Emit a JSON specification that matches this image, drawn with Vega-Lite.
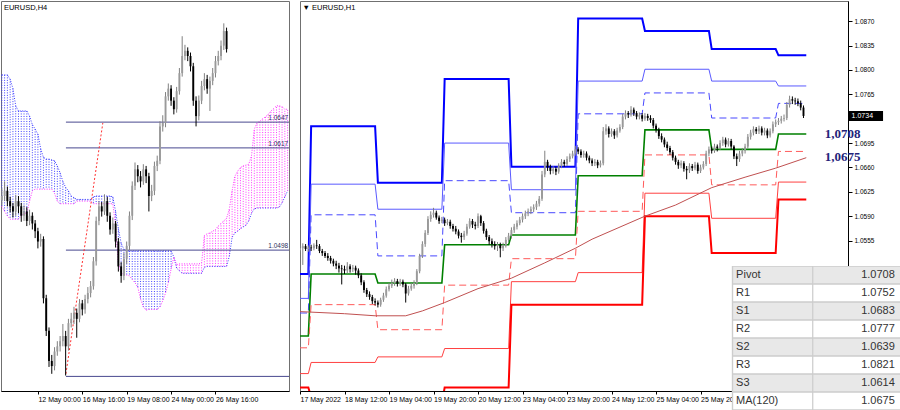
{
  "$schema": "https://vega.github.io/schema/vega-lite/v6.json",
  "padding": 0,
  "background": "#ffffff",
  "spacing": 9,
  "config": {
    "view": {"stroke": "#707070", "strokeWidth": 1},
    "axis": {"labelFont": "Liberation Sans", "labelFontSize": 7, "labelColor": "#000000", "domainColor": "#000000", "tickColor": "#000000", "grid": false, "title": null, "labelOverlap": false, "labelFlush": false},
    "title": {"font": "Liberation Sans", "fontSize": 7.5, "fontWeight": "normal", "color": "#000000", "anchor": "start"}
  },
  "datasets": {
    "h4": [
      {"b":-13,"o":1.0556,"h":1.0570,"l":1.0550,"c":1.0561},
      {"b":-12,"o":1.0561,"h":1.0578,"l":1.0555,"c":1.0567},
      {"b":-11,"o":1.0567,"h":1.0572,"l":1.0549,"c":1.0555},
      {"b":-10,"o":1.0555,"h":1.0560,"l":1.0542,"c":1.0549},
      {"b":-9,"o":1.0549,"h":1.0553,"l":1.0536,"c":1.0543},
      {"b":-8,"o":1.0543,"h":1.0562,"l":1.0538,"c":1.0555},
      {"b":-7,"o":1.0555,"h":1.0561,"l":1.0541,"c":1.0549},
      {"b":-6,"o":1.0549,"h":1.0553,"l":1.0531,"c":1.0538},
      {"b":-5,"o":1.0538,"h":1.0550,"l":1.0532,"c":1.0543},
      {"b":-4,"o":1.0543,"h":1.0548,"l":1.0526,"c":1.0532},
      {"b":-3,"o":1.0532,"h":1.0545,"l":1.0527,"c":1.0538},
      {"b":-2,"o":1.0538,"h":1.0542,"l":1.0522,"c":1.0529},
      {"b":-1,"o":1.0529,"h":1.0533,"l":1.0512,"c":1.0520},
      {"b":0,"o":1.0520,"h":1.0524,"l":1.0500,"c":1.0508},
      {"b":1,"o":1.0508,"h":1.0517,"l":1.0502,"c":1.0511},
      {"b":2,"o":1.0511,"h":1.0514,"l":1.0436,"c":1.0442},
      {"b":3,"o":1.0442,"h":1.0446,"l":1.0398,"c":1.0404},
      {"b":4,"o":1.0404,"h":1.0408,"l":1.0362,"c":1.0369},
      {"b":5,"o":1.0369,"h":1.0376,"l":1.0354,"c":1.0363},
      {"b":6,"o":1.0363,"h":1.0385,"l":1.0358,"c":1.0380},
      {"b":7,"o":1.0380,"h":1.0392,"l":1.0375,"c":1.0386},
      {"b":8,"o":1.0386,"h":1.0398,"l":1.0380,"c":1.0392},
      {"b":9,"o":1.0392,"h":1.0412,"l":1.0386,"c":1.0398},
      {"b":10,"o":1.0398,"h":1.0404,"l":1.0352,"c":1.0386},
      {"b":11,"o":1.0386,"h":1.0418,"l":1.0381,"c":1.0413},
      {"b":12,"o":1.0413,"h":1.0425,"l":1.0408,"c":1.0418},
      {"b":13,"o":1.0418,"h":1.0432,"l":1.0412,"c":1.0425},
      {"b":14,"o":1.0425,"h":1.0430,"l":1.0396,"c":1.0418},
      {"b":15,"o":1.0418,"h":1.0441,"l":1.0414,"c":1.0436},
      {"b":16,"o":1.0436,"h":1.0440,"l":1.0422,"c":1.0429},
      {"b":17,"o":1.0429,"h":1.0446,"l":1.0424,"c":1.0441},
      {"b":18,"o":1.0441,"h":1.0455,"l":1.0436,"c":1.0448},
      {"b":19,"o":1.0448,"h":1.0462,"l":1.0443,"c":1.0456},
      {"b":20,"o":1.0456,"h":1.0490,"l":1.0452,"c":1.0485},
      {"b":21,"o":1.0485,"h":1.0537,"l":1.0480,"c":1.0532},
      {"b":22,"o":1.0532,"h":1.0555,"l":1.0527,"c":1.0549},
      {"b":23,"o":1.0549,"h":1.0554,"l":1.0537,"c":1.0543},
      {"b":24,"o":1.0543,"h":1.0563,"l":1.0539,"c":1.0555},
      {"b":25,"o":1.0555,"h":1.0560,"l":1.0531,"c":1.0538},
      {"b":26,"o":1.0538,"h":1.0542,"l":1.0516,"c":1.0522},
      {"b":27,"o":1.0522,"h":1.0536,"l":1.0517,"c":1.0529},
      {"b":28,"o":1.0529,"h":1.0532,"l":1.0501,"c":1.0508},
      {"b":29,"o":1.0508,"h":1.0512,"l":1.0473,"c":1.0479},
      {"b":30,"o":1.0479,"h":1.0484,"l":1.0460,"c":1.0468},
      {"b":31,"o":1.0468,"h":1.0495,"l":1.0463,"c":1.0488},
      {"b":32,"o":1.0488,"h":1.0508,"l":1.0482,"c":1.0503},
      {"b":33,"o":1.0503,"h":1.0543,"l":1.0498,"c":1.0538},
      {"b":34,"o":1.0538,"h":1.0578,"l":1.0533,"c":1.0573},
      {"b":35,"o":1.0573,"h":1.0600,"l":1.0568,"c":1.0592},
      {"b":36,"o":1.0592,"h":1.0597,"l":1.0577,"c":1.0584},
      {"b":37,"o":1.0584,"h":1.0590,"l":1.0571,"c":1.0578},
      {"b":38,"o":1.0578,"h":1.0598,"l":1.0574,"c":1.0592},
      {"b":39,"o":1.0592,"h":1.0596,"l":1.0576,"c":1.0584},
      {"b":40,"o":1.0584,"h":1.0588,"l":1.0543,"c":1.0561},
      {"b":41,"o":1.0561,"h":1.0574,"l":1.0555,"c":1.0567},
      {"b":42,"o":1.0567,"h":1.0601,"l":1.0562,"c":1.0596},
      {"b":43,"o":1.0596,"h":1.0608,"l":1.0590,"c":1.0602},
      {"b":44,"o":1.0602,"h":1.0648,"l":1.0598,"c":1.0642},
      {"b":45,"o":1.0642,"h":1.0655,"l":1.0636,"c":1.0646},
      {"b":46,"o":1.0646,"h":1.0682,"l":1.0641,"c":1.0677},
      {"b":47,"o":1.0677,"h":1.0692,"l":1.0672,"c":1.0686},
      {"b":48,"o":1.0686,"h":1.0690,"l":1.0666,"c":1.0672},
      {"b":49,"o":1.0672,"h":1.0676,"l":1.0656,"c":1.0662},
      {"b":50,"o":1.0662,"h":1.0688,"l":1.0658,"c":1.0683},
      {"b":51,"o":1.0683,"h":1.0710,"l":1.0679,"c":1.0704},
      {"b":52,"o":1.0704,"h":1.0747,"l":1.0700,"c":1.0724},
      {"b":53,"o":1.0724,"h":1.0737,"l":1.0719,"c":1.0730},
      {"b":54,"o":1.0730,"h":1.0734,"l":1.0718,"c":1.0724},
      {"b":55,"o":1.0724,"h":1.0728,"l":1.0706,"c":1.0712},
      {"b":56,"o":1.0712,"h":1.0716,"l":1.0666,"c":1.0672},
      {"b":57,"o":1.0672,"h":1.0677,"l":1.0642,"c":1.0654},
      {"b":58,"o":1.0654,"h":1.0678,"l":1.0649,"c":1.0672},
      {"b":59,"o":1.0672,"h":1.0695,"l":1.0668,"c":1.0689},
      {"b":60,"o":1.0689,"h":1.0704,"l":1.0684,"c":1.0697},
      {"b":61,"o":1.0697,"h":1.0702,"l":1.0680,"c":1.0686},
      {"b":62,"o":1.0686,"h":1.0700,"l":1.0660,"c":1.0695},
      {"b":63,"o":1.0695,"h":1.0710,"l":1.0690,"c":1.0704},
      {"b":64,"o":1.0704,"h":1.0724,"l":1.0699,"c":1.0718},
      {"b":65,"o":1.0718,"h":1.0730,"l":1.0713,"c":1.0724},
      {"b":66,"o":1.0724,"h":1.0742,"l":1.0719,"c":1.0736},
      {"b":67,"o":1.0736,"h":1.0762,"l":1.0731,"c":1.0753},
      {"b":68,"o":1.0753,"h":1.0757,"l":1.0728,"c":1.0732}
    ],
    "ichi": [
      {"b":-13,"A":1.0702,"B":1.0549},{"b":-12,"A":1.0702,"B":1.0543},{"b":-11,"A":1.0702,"B":1.0538},{"b":-10,"A":1.0697,"B":1.0534},
      {"b":-9,"A":1.0686,"B":1.0534},{"b":-8,"A":1.0666,"B":1.0534},{"b":-7,"A":1.0660,"B":1.0534},{"b":-6,"A":1.0660,"B":1.0538},
      {"b":-5,"A":1.0660,"B":1.0541},{"b":-4,"A":1.0660,"B":1.0541},{"b":-3,"A":1.0654,"B":1.0555},{"b":-2,"A":1.0644,"B":1.0567},
      {"b":-1,"A":1.0639,"B":1.0569},{"b":0,"A":1.0633,"B":1.0569},{"b":1,"A":1.0616,"B":1.0569},{"b":2,"A":1.0606,"B":1.0569},
      {"b":3,"A":1.0604,"B":1.0569},{"b":4,"A":1.0604,"B":1.0569},{"b":5,"A":1.0603,"B":1.0569},{"b":6,"A":1.0602,"B":1.0564},
      {"b":7,"A":1.0596,"B":1.0555},{"b":8,"A":1.0588,"B":1.0552},{"b":9,"A":1.0578,"B":1.0552},{"b":10,"A":1.0571,"B":1.0552},
      {"b":11,"A":1.0567,"B":1.0552},{"b":12,"A":1.0561,"B":1.0552},{"b":13,"A":1.0559,"B":1.0552},{"b":14,"A":1.0557,"B":1.0555},
      {"b":15,"A":1.0557,"B":1.0555},{"b":16,"A":1.0557,"B":1.0555},{"b":17,"A":1.0557,"B":1.0555},{"b":18,"A":1.0557,"B":1.0555},
      {"b":19,"A":1.0557,"B":1.0555},{"b":20,"A":1.0560,"B":1.0552},{"b":21,"A":1.0561,"B":1.0552},{"b":22,"A":1.0561,"B":1.0552},
      {"b":23,"A":1.0561,"B":1.0552},{"b":24,"A":1.0561,"B":1.0552},{"b":25,"A":1.0561,"B":1.0552},{"b":26,"A":1.0561,"B":1.0552},
      {"b":27,"A":1.0560,"B":1.0552},{"b":28,"A":1.0543,"B":1.0526},{"b":29,"A":1.0523,"B":1.0483},{"b":30,"A":1.0506,"B":1.0471},
      {"b":31,"A":1.0499,"B":1.0470},{"b":32,"A":1.0497,"B":1.0469},{"b":33,"A":1.0497,"B":1.0468},{"b":34,"A":1.0497,"B":1.0464},
      {"b":35,"A":1.0497,"B":1.0460},{"b":36,"A":1.0497,"B":1.0455},{"b":37,"A":1.0497,"B":1.0441},{"b":38,"A":1.0497,"B":1.0432},
      {"b":39,"A":1.0497,"B":1.0428},{"b":40,"A":1.0497,"B":1.0429},{"b":41,"A":1.0497,"B":1.0429},{"b":42,"A":1.0497,"B":1.0429},
      {"b":43,"A":1.0497,"B":1.0429},{"b":44,"A":1.0497,"B":1.0432},{"b":45,"A":1.0497,"B":1.0439},{"b":46,"A":1.0497,"B":1.0448},
      {"b":47,"A":1.0497,"B":1.0460},{"b":48,"A":1.0497,"B":1.0476},{"b":49,"A":1.0490,"B":1.0490},{"b":50,"A":1.0477,"B":1.0481},
      {"b":51,"A":1.0474,"B":1.0482},{"b":52,"A":1.0471,"B":1.0482},{"b":53,"A":1.0471,"B":1.0482},{"b":54,"A":1.0471,"B":1.0482},
      {"b":55,"A":1.0471,"B":1.0482},{"b":56,"A":1.0471,"B":1.0482},{"b":57,"A":1.0471,"B":1.0482},{"b":58,"A":1.0471,"B":1.0482},
      {"b":59,"A":1.0471,"B":1.0483},{"b":60,"A":1.0478,"B":1.0515},{"b":61,"A":1.0479,"B":1.0517},{"b":62,"A":1.0479,"B":1.0518},
      {"b":63,"A":1.0479,"B":1.0520},{"b":64,"A":1.0479,"B":1.0522},{"b":65,"A":1.0479,"B":1.0526},{"b":66,"A":1.0479,"B":1.0529},
      {"b":67,"A":1.0479,"B":1.0532},{"b":68,"A":1.0479,"B":1.0535},{"b":69,"A":1.0491,"B":1.0546},{"b":70,"A":1.0513,"B":1.0567},
      {"b":71,"A":1.0518,"B":1.0584},{"b":72,"A":1.0520,"B":1.0590},{"b":73,"A":1.0523,"B":1.0594},{"b":74,"A":1.0525,"B":1.0596},
      {"b":75,"A":1.0527,"B":1.0597},{"b":76,"A":1.0532,"B":1.0598},{"b":77,"A":1.0541,"B":1.0608},{"b":78,"A":1.0546,"B":1.0639},
      {"b":79,"A":1.0547,"B":1.0646},{"b":80,"A":1.0547,"B":1.0648},{"b":81,"A":1.0547,"B":1.0651},{"b":82,"A":1.0547,"B":1.0653},
      {"b":83,"A":1.0547,"B":1.0656},{"b":84,"A":1.0547,"B":1.0660},{"b":85,"A":1.0547,"B":1.0663},{"b":86,"A":1.0547,"B":1.0666},
      {"b":87,"A":1.0548,"B":1.0666},{"b":88,"A":1.0553,"B":1.0665},{"b":89,"A":1.0560,"B":1.0662},{"b":90,"A":1.0567,"B":1.0662}
    ],
    "lv": [
      {"p":1.0647,"lab":"1.0647"},{"p":1.0617,"lab":"1.0617"},{"p":1.0498,"lab":"1.0498"},{"p":1.0351,"lab":""}
    ],
    "tr": [{"b":10.1,"p":1.0354},{"b":23.4,"p":1.0646}],
    "piv": [
      {"t":-4,"R3":1.0507,"R2":1.0472,"R1":1.0451,"P":1.0418,"S1":1.0401,"S2":1.0364,"S3":1.0344},
      {"t":-1,"R3":1.0507,"R2":1.0472,"R1":1.0451,"P":1.0418,"S1":1.0401,"S2":1.0364,"S3":1.0344},
      {"t":0,"R3":1.0719,"R2":1.0636,"R1":1.0592,"P":1.0507,"S1":1.0463,"S2":1.0380,"S3":1.0330},
      {"t":23,"R3":1.0719,"R2":1.0636,"R1":1.0592,"P":1.0507,"S1":1.0463,"S2":1.0380,"S3":1.0330},
      {"t":24,"R3":1.0638,"R2":1.0600,"R1":1.0533,"P":1.0494,"S1":1.0427,"S2":1.0388,"S3":1.0321},
      {"t":47,"R3":1.0638,"R2":1.0600,"R1":1.0533,"P":1.0494,"S1":1.0427,"S2":1.0388,"S3":1.0321},
      {"t":48,"R3":1.0787,"R2":1.0695,"R1":1.0641,"P":1.0549,"S1":1.0491,"S2":1.0400,"S3":1.0344},
      {"t":71,"R3":1.0787,"R2":1.0695,"R1":1.0641,"P":1.0549,"S1":1.0491,"S2":1.0400,"S3":1.0344},
      {"t":72,"R3":1.0661,"R2":1.0628,"R1":1.0595,"P":1.0563,"S1":1.0529,"S2":1.0496,"S3":1.0463},
      {"t":95,"R3":1.0661,"R2":1.0628,"R1":1.0595,"P":1.0563,"S1":1.0529,"S2":1.0496,"S3":1.0463},
      {"t":96,"R3":1.0874,"R2":1.0784,"R1":1.0737,"P":1.0648,"S1":1.0597,"S2":1.0509,"S3":1.0463},
      {"t":119,"R3":1.0874,"R2":1.0784,"R1":1.0737,"P":1.0648,"S1":1.0597,"S2":1.0509,"S3":1.0463},
      {"t":120,"R3":1.0856,"R2":1.0801,"R1":1.0767,"P":1.0714,"S1":1.0678,"S2":1.0623,"S3":1.0590},
      {"t":143,"R3":1.0856,"R2":1.0801,"R1":1.0767,"P":1.0714,"S1":1.0678,"S2":1.0623,"S3":1.0590},
      {"t":144,"R3":1.0830,"R2":1.0784,"R1":1.0731,"P":1.0686,"S1":1.0635,"S2":1.0587,"S3":1.0537},
      {"t":167,"R3":1.0830,"R2":1.0784,"R1":1.0731,"P":1.0686,"S1":1.0635,"S2":1.0587,"S3":1.0537},
      {"t":168,"R3":1.0821,"R2":1.0777,"R1":1.0752,"P":1.0708,"S1":1.0683,"S2":1.0639,"S3":1.0614},
      {"t":178,"R3":1.0821,"R2":1.0777,"R1":1.0752,"P":1.0708,"S1":1.0683,"S2":1.0639,"S3":1.0614}
    ],
    "ma": [
      {"t":-4,"v":1.0453},{"t":12,"v":1.0450},{"t":23,"v":1.0447},{"t":34,"v":1.0447},{"t":40,"v":1.0454},
      {"t":48,"v":1.0466},{"t":60,"v":1.0486},{"t":72,"v":1.0501},{"t":84,"v":1.0523},{"t":95,"v":1.0544},
      {"t":101,"v":1.0557},{"t":120,"v":1.0590},{"t":131,"v":1.0606},{"t":144,"v":1.0631},{"t":156,"v":1.0646},
      {"t":167,"v":1.0659},{"t":178,"v":1.0674}
    ],
    "h1": [
      {"t":-4,"o":1.0541,"h":1.0548,"l":1.0538,"c":1.0544},
      {"t":-3,"o":1.0544,"h":1.0551,"l":1.0520,"c":1.0547},
      {"t":-2,"o":1.0547,"h":1.0550,"l":1.0540,"c":1.0543},
      {"t":-1,"o":1.0543,"h":1.0548,"l":1.0539,"c":1.0545},
      {"t":0,"o":1.0545,"h":1.0549,"l":1.0540,"c":1.0544},
      {"t":1,"o":1.0544,"h":1.0551,"l":1.0541,"c":1.0548},
      {"t":2,"o":1.0548,"h":1.0556,"l":1.0543,"c":1.0547},
      {"t":3,"o":1.0547,"h":1.0550,"l":1.0537,"c":1.0540},
      {"t":4,"o":1.0540,"h":1.0543,"l":1.0533,"c":1.0537},
      {"t":5,"o":1.0537,"h":1.0540,"l":1.0530,"c":1.0533},
      {"t":6,"o":1.0533,"h":1.0537,"l":1.0526,"c":1.0530},
      {"t":7,"o":1.0530,"h":1.0533,"l":1.0522,"c":1.0526},
      {"t":8,"o":1.0526,"h":1.0529,"l":1.0518,"c":1.0522},
      {"t":9,"o":1.0522,"h":1.0526,"l":1.0514,"c":1.0519},
      {"t":10,"o":1.0519,"h":1.0523,"l":1.0509,"c":1.0515},
      {"t":11,"o":1.0515,"h":1.0520,"l":1.0492,"c":1.0514},
      {"t":12,"o":1.0514,"h":1.0519,"l":1.0507,"c":1.0512},
      {"t":13,"o":1.0512,"h":1.0524,"l":1.0508,"c":1.0518},
      {"t":14,"o":1.0518,"h":1.0521,"l":1.0509,"c":1.0514},
      {"t":15,"o":1.0514,"h":1.0520,"l":1.0510,"c":1.0516},
      {"t":16,"o":1.0516,"h":1.0519,"l":1.0506,"c":1.0512},
      {"t":17,"o":1.0512,"h":1.0515,"l":1.0501,"c":1.0505},
      {"t":18,"o":1.0505,"h":1.0508,"l":1.0491,"c":1.0495},
      {"t":19,"o":1.0495,"h":1.0498,"l":1.0480,"c":1.0484},
      {"t":20,"o":1.0484,"h":1.0487,"l":1.0474,"c":1.0478},
      {"t":21,"o":1.0478,"h":1.0482,"l":1.0470,"c":1.0474},
      {"t":22,"o":1.0474,"h":1.0477,"l":1.0464,"c":1.0468},
      {"t":23,"o":1.0468,"h":1.0472,"l":1.0462,"c":1.0466},
      {"t":24,"o":1.0466,"h":1.0469,"l":1.0459,"c":1.0463},
      {"t":25,"o":1.0463,"h":1.0473,"l":1.0460,"c":1.0470},
      {"t":26,"o":1.0470,"h":1.0480,"l":1.0467,"c":1.0476},
      {"t":27,"o":1.0476,"h":1.0489,"l":1.0473,"c":1.0485},
      {"t":28,"o":1.0485,"h":1.0494,"l":1.0482,"c":1.0490},
      {"t":29,"o":1.0490,"h":1.0499,"l":1.0487,"c":1.0494},
      {"t":30,"o":1.0494,"h":1.0501,"l":1.0490,"c":1.0497},
      {"t":31,"o":1.0497,"h":1.0500,"l":1.0489,"c":1.0493},
      {"t":32,"o":1.0493,"h":1.0500,"l":1.0490,"c":1.0496},
      {"t":33,"o":1.0496,"h":1.0499,"l":1.0488,"c":1.0492},
      {"t":34,"o":1.0492,"h":1.0494,"l":1.0466,"c":1.0479},
      {"t":35,"o":1.0479,"h":1.0490,"l":1.0476,"c":1.0486},
      {"t":36,"o":1.0486,"h":1.0494,"l":1.0483,"c":1.0490},
      {"t":37,"o":1.0490,"h":1.0498,"l":1.0486,"c":1.0494},
      {"t":38,"o":1.0494,"h":1.0514,"l":1.0491,"c":1.0511},
      {"t":39,"o":1.0511,"h":1.0536,"l":1.0508,"c":1.0533},
      {"t":40,"o":1.0533,"h":1.0554,"l":1.0530,"c":1.0550},
      {"t":41,"o":1.0550,"h":1.0570,"l":1.0546,"c":1.0566},
      {"t":42,"o":1.0566,"h":1.0590,"l":1.0563,"c":1.0586},
      {"t":43,"o":1.0586,"h":1.0597,"l":1.0582,"c":1.0592},
      {"t":44,"o":1.0592,"h":1.0602,"l":1.0588,"c":1.0595},
      {"t":45,"o":1.0595,"h":1.0598,"l":1.0585,"c":1.0588},
      {"t":46,"o":1.0588,"h":1.0591,"l":1.0579,"c":1.0583},
      {"t":47,"o":1.0583,"h":1.0589,"l":1.0580,"c":1.0585},
      {"t":48,"o":1.0585,"h":1.0588,"l":1.0576,"c":1.0580},
      {"t":49,"o":1.0580,"h":1.0586,"l":1.0577,"c":1.0582},
      {"t":50,"o":1.0582,"h":1.0585,"l":1.0572,"c":1.0576},
      {"t":51,"o":1.0576,"h":1.0579,"l":1.0568,"c":1.0572},
      {"t":52,"o":1.0572,"h":1.0576,"l":1.0564,"c":1.0568},
      {"t":53,"o":1.0568,"h":1.0571,"l":1.0558,"c":1.0562},
      {"t":54,"o":1.0562,"h":1.0566,"l":1.0552,"c":1.0560},
      {"t":55,"o":1.0560,"h":1.0569,"l":1.0556,"c":1.0565},
      {"t":56,"o":1.0565,"h":1.0579,"l":1.0562,"c":1.0575},
      {"t":57,"o":1.0575,"h":1.0587,"l":1.0572,"c":1.0583},
      {"t":58,"o":1.0583,"h":1.0586,"l":1.0573,"c":1.0578},
      {"t":59,"o":1.0578,"h":1.0582,"l":1.0571,"c":1.0576},
      {"t":60,"o":1.0576,"h":1.0594,"l":1.0573,"c":1.0590},
      {"t":61,"o":1.0590,"h":1.0592,"l":1.0576,"c":1.0580},
      {"t":62,"o":1.0580,"h":1.0583,"l":1.0565,"c":1.0569},
      {"t":63,"o":1.0569,"h":1.0572,"l":1.0556,"c":1.0560},
      {"t":64,"o":1.0560,"h":1.0563,"l":1.0549,"c":1.0554},
      {"t":65,"o":1.0554,"h":1.0558,"l":1.0545,"c":1.0550},
      {"t":66,"o":1.0550,"h":1.0554,"l":1.0542,"c":1.0547},
      {"t":67,"o":1.0547,"h":1.0553,"l":1.0540,"c":1.0549},
      {"t":68,"o":1.0549,"h":1.0552,"l":1.0531,"c":1.0544},
      {"t":69,"o":1.0544,"h":1.0552,"l":1.0540,"c":1.0548},
      {"t":70,"o":1.0548,"h":1.0560,"l":1.0545,"c":1.0556},
      {"t":71,"o":1.0556,"h":1.0566,"l":1.0553,"c":1.0562},
      {"t":72,"o":1.0562,"h":1.0574,"l":1.0558,"c":1.0570},
      {"t":73,"o":1.0570,"h":1.0579,"l":1.0566,"c":1.0575},
      {"t":74,"o":1.0575,"h":1.0584,"l":1.0571,"c":1.0580},
      {"t":75,"o":1.0580,"h":1.0589,"l":1.0577,"c":1.0585},
      {"t":76,"o":1.0585,"h":1.0594,"l":1.0581,"c":1.0590},
      {"t":77,"o":1.0590,"h":1.0598,"l":1.0586,"c":1.0594},
      {"t":78,"o":1.0594,"h":1.0601,"l":1.0590,"c":1.0597},
      {"t":79,"o":1.0597,"h":1.0604,"l":1.0593,"c":1.0600},
      {"t":80,"o":1.0600,"h":1.0607,"l":1.0596,"c":1.0603},
      {"t":81,"o":1.0603,"h":1.0612,"l":1.0599,"c":1.0608},
      {"t":82,"o":1.0608,"h":1.0619,"l":1.0604,"c":1.0615},
      {"t":83,"o":1.0615,"h":1.0655,"l":1.0612,"c":1.0650},
      {"t":84,"o":1.0650,"h":1.0684,"l":1.0646,"c":1.0668},
      {"t":85,"o":1.0668,"h":1.0671,"l":1.0655,"c":1.0660},
      {"t":86,"o":1.0660,"h":1.0664,"l":1.0650,"c":1.0655},
      {"t":87,"o":1.0655,"h":1.0662,"l":1.0651,"c":1.0658},
      {"t":88,"o":1.0658,"h":1.0661,"l":1.0649,"c":1.0654},
      {"t":89,"o":1.0654,"h":1.0666,"l":1.0651,"c":1.0662},
      {"t":90,"o":1.0662,"h":1.0672,"l":1.0659,"c":1.0668},
      {"t":91,"o":1.0668,"h":1.0671,"l":1.0661,"c":1.0665},
      {"t":92,"o":1.0665,"h":1.0676,"l":1.0662,"c":1.0672},
      {"t":93,"o":1.0672,"h":1.0680,"l":1.0668,"c":1.0676},
      {"t":94,"o":1.0676,"h":1.0684,"l":1.0673,"c":1.0680},
      {"t":95,"o":1.0680,"h":1.0691,"l":1.0677,"c":1.0686},
      {"t":96,"o":1.0686,"h":1.0689,"l":1.0679,"c":1.0683},
      {"t":97,"o":1.0683,"h":1.0686,"l":1.0674,"c":1.0678},
      {"t":98,"o":1.0678,"h":1.0684,"l":1.0674,"c":1.0680},
      {"t":99,"o":1.0680,"h":1.0683,"l":1.0670,"c":1.0674},
      {"t":100,"o":1.0674,"h":1.0677,"l":1.0666,"c":1.0670},
      {"t":101,"o":1.0670,"h":1.0673,"l":1.0662,"c":1.0666},
      {"t":102,"o":1.0666,"h":1.0672,"l":1.0662,"c":1.0668},
      {"t":103,"o":1.0668,"h":1.0671,"l":1.0659,"c":1.0663},
      {"t":104,"o":1.0663,"h":1.0670,"l":1.0660,"c":1.0666},
      {"t":105,"o":1.0666,"h":1.0718,"l":1.0663,"c":1.0712},
      {"t":106,"o":1.0712,"h":1.0722,"l":1.0707,"c":1.0716},
      {"t":107,"o":1.0716,"h":1.0719,"l":1.0703,"c":1.0708},
      {"t":108,"o":1.0708,"h":1.0716,"l":1.0704,"c":1.0712},
      {"t":109,"o":1.0712,"h":1.0715,"l":1.0701,"c":1.0706},
      {"t":110,"o":1.0706,"h":1.0717,"l":1.0703,"c":1.0713},
      {"t":111,"o":1.0713,"h":1.0722,"l":1.0710,"c":1.0718},
      {"t":112,"o":1.0718,"h":1.0737,"l":1.0715,"c":1.0733},
      {"t":113,"o":1.0733,"h":1.0742,"l":1.0729,"c":1.0738},
      {"t":114,"o":1.0738,"h":1.0741,"l":1.0731,"c":1.0736},
      {"t":115,"o":1.0736,"h":1.0748,"l":1.0733,"c":1.0743},
      {"t":116,"o":1.0743,"h":1.0746,"l":1.0734,"c":1.0738},
      {"t":117,"o":1.0738,"h":1.0741,"l":1.0729,"c":1.0733},
      {"t":118,"o":1.0733,"h":1.0739,"l":1.0729,"c":1.0735},
      {"t":119,"o":1.0735,"h":1.0738,"l":1.0726,"c":1.0730},
      {"t":120,"o":1.0730,"h":1.0738,"l":1.0727,"c":1.0734},
      {"t":121,"o":1.0734,"h":1.0737,"l":1.0727,"c":1.0731},
      {"t":122,"o":1.0731,"h":1.0735,"l":1.0724,"c":1.0728},
      {"t":123,"o":1.0728,"h":1.0731,"l":1.0716,"c":1.0720},
      {"t":124,"o":1.0720,"h":1.0723,"l":1.0710,"c":1.0714},
      {"t":125,"o":1.0714,"h":1.0717,"l":1.0701,"c":1.0705},
      {"t":126,"o":1.0705,"h":1.0709,"l":1.0696,"c":1.0700},
      {"t":127,"o":1.0700,"h":1.0703,"l":1.0689,"c":1.0693},
      {"t":128,"o":1.0693,"h":1.0697,"l":1.0684,"c":1.0688},
      {"t":129,"o":1.0688,"h":1.0691,"l":1.0678,"c":1.0682},
      {"t":130,"o":1.0682,"h":1.0685,"l":1.0670,"c":1.0674},
      {"t":131,"o":1.0674,"h":1.0677,"l":1.0664,"c":1.0668},
      {"t":132,"o":1.0668,"h":1.0671,"l":1.0658,"c":1.0663},
      {"t":133,"o":1.0663,"h":1.0670,"l":1.0659,"c":1.0666},
      {"t":134,"o":1.0666,"h":1.0669,"l":1.0654,"c":1.0658},
      {"t":135,"o":1.0658,"h":1.0662,"l":1.0643,"c":1.0656},
      {"t":136,"o":1.0656,"h":1.0666,"l":1.0652,"c":1.0662},
      {"t":137,"o":1.0662,"h":1.0665,"l":1.0655,"c":1.0659},
      {"t":138,"o":1.0659,"h":1.0668,"l":1.0656,"c":1.0664},
      {"t":139,"o":1.0664,"h":1.0667,"l":1.0651,"c":1.0655},
      {"t":140,"o":1.0655,"h":1.0664,"l":1.0652,"c":1.0660},
      {"t":141,"o":1.0660,"h":1.0669,"l":1.0657,"c":1.0665},
      {"t":142,"o":1.0665,"h":1.0684,"l":1.0662,"c":1.0680},
      {"t":143,"o":1.0680,"h":1.0690,"l":1.0676,"c":1.0686},
      {"t":144,"o":1.0686,"h":1.0690,"l":1.0680,"c":1.0684},
      {"t":145,"o":1.0684,"h":1.0694,"l":1.0681,"c":1.0690},
      {"t":146,"o":1.0690,"h":1.0693,"l":1.0683,"c":1.0688},
      {"t":147,"o":1.0688,"h":1.0699,"l":1.0685,"c":1.0695},
      {"t":148,"o":1.0695,"h":1.0704,"l":1.0691,"c":1.0700},
      {"t":149,"o":1.0700,"h":1.0703,"l":1.0689,"c":1.0693},
      {"t":150,"o":1.0693,"h":1.0702,"l":1.0690,"c":1.0698},
      {"t":151,"o":1.0698,"h":1.0701,"l":1.0686,"c":1.0690},
      {"t":152,"o":1.0690,"h":1.0692,"l":1.0672,"c":1.0676},
      {"t":153,"o":1.0676,"h":1.0680,"l":1.0662,"c":1.0672},
      {"t":154,"o":1.0672,"h":1.0684,"l":1.0668,"c":1.0680},
      {"t":155,"o":1.0680,"h":1.0688,"l":1.0676,"c":1.0684},
      {"t":156,"o":1.0684,"h":1.0694,"l":1.0680,"c":1.0690},
      {"t":157,"o":1.0690,"h":1.0708,"l":1.0687,"c":1.0704},
      {"t":158,"o":1.0704,"h":1.0714,"l":1.0700,"c":1.0710},
      {"t":159,"o":1.0710,"h":1.0719,"l":1.0706,"c":1.0715},
      {"t":160,"o":1.0715,"h":1.0718,"l":1.0708,"c":1.0712},
      {"t":161,"o":1.0712,"h":1.0720,"l":1.0708,"c":1.0716},
      {"t":162,"o":1.0716,"h":1.0719,"l":1.0706,"c":1.0710},
      {"t":163,"o":1.0710,"h":1.0717,"l":1.0706,"c":1.0713},
      {"t":164,"o":1.0713,"h":1.0716,"l":1.0702,"c":1.0706},
      {"t":165,"o":1.0706,"h":1.0716,"l":1.0703,"c":1.0712},
      {"t":166,"o":1.0712,"h":1.0726,"l":1.0709,"c":1.0722},
      {"t":167,"o":1.0722,"h":1.0729,"l":1.0718,"c":1.0725},
      {"t":168,"o":1.0725,"h":1.0731,"l":1.0721,"c":1.0727},
      {"t":169,"o":1.0727,"h":1.0734,"l":1.0723,"c":1.0730},
      {"t":170,"o":1.0730,"h":1.0736,"l":1.0726,"c":1.0731},
      {"t":171,"o":1.0731,"h":1.0754,"l":1.0728,"c":1.0750},
      {"t":172,"o":1.0750,"h":1.0763,"l":1.0746,"c":1.0758},
      {"t":173,"o":1.0758,"h":1.0762,"l":1.0751,"c":1.0756},
      {"t":174,"o":1.0756,"h":1.0760,"l":1.0750,"c":1.0755},
      {"t":175,"o":1.0755,"h":1.0759,"l":1.0748,"c":1.0752},
      {"t":176,"o":1.0752,"h":1.0756,"l":1.0742,"c":1.0746},
      {"t":177,"o":1.0746,"h":1.0749,"l":1.0731,"c":1.0734}
    ],
    "ann": [{"v":1.0708,"txt":"1,0708"},{"v":1.0675,"txt":"1,0675"}],
    "px": [{"v":1.0734,"txt":"1.0734"}],
    "tbl": [
      {"row":0,"name":"Pivot","val":"1.0708"},
      {"row":1,"name":"R1","val":"1.0752"},
      {"row":2,"name":"S1","val":"1.0683"},
      {"row":3,"name":"R2","val":"1.0777"},
      {"row":4,"name":"S2","val":"1.0639"},
      {"row":5,"name":"R3","val":"1.0821"},
      {"row":6,"name":"S3","val":"1.0614"},
      {"row":7,"name":"MA(120)","val":"1.0675"}
    ]
  },
  "hconcat": [
    {
      "width": 288,
      "height": 390,
      "title": {"text": "EURUSD,H4", "offset": -10, "dx": 3},
      "layer": [
        {
          "data": {"name": "ichi"},
          "mark": {"type": "rule", "strokeDash": [1, 1.5], "strokeWidth": 1, "clip": true},
          "encoding": {
            "x": {"field": "b", "type": "quantitative", "scale": {"domain": [-13.3, 90.5], "nice": false, "zero": false},
                  "axis": {"values": [0, 16, 32, 48, 64], "labelAlign": "left", "labelPadding": 1, "tickSize": 3,
                           "labelExpr": "datum.value == 0 ? '12 May 00:00' : datum.value == 16 ? '16 May 16:00' : datum.value == 32 ? '19 May 08:00' : datum.value == 48 ? '24 May 00:00' : '26 May 16:00'"}},
            "y": {"field": "A", "type": "quantitative", "scale": {"domain": [1.0334, 1.0788], "nice": false, "zero": false}, "axis": null},
            "y2": {"field": "B"},
            "color": {"condition": {"test": "datum.A >= datum.B", "value": "#4040ff"}, "value": "#ff3cff"}
          }
        },
        {
          "data": {"name": "ichi"},
          "mark": {"type": "line", "color": "#3a3aff", "strokeWidth": 1, "strokeDash": [1, 1.5], "clip": true},
          "encoding": {"x": {"field": "b", "type": "quantitative"}, "y": {"field": "A", "type": "quantitative"}}
        },
        {
          "data": {"name": "ichi"},
          "mark": {"type": "line", "color": "#ff30ff", "strokeWidth": 1, "strokeDash": [1, 1.5], "clip": true},
          "encoding": {"x": {"field": "b", "type": "quantitative"}, "y": {"field": "B", "type": "quantitative"}}
        },
        {
          "data": {"name": "lv"},
          "mark": {"type": "rule", "color": "#48488f", "strokeWidth": 1},
          "encoding": {"x": {"datum": 10.1, "type": "quantitative"}, "x2": {"datum": 90.5}, "y": {"field": "p", "type": "quantitative"}}
        },
        {
          "data": {"name": "lv"},
          "mark": {"type": "text", "align": "right", "baseline": "bottom", "dy": -1, "fontSize": 6.5, "font": "Liberation Sans", "color": "#303060"},
          "encoding": {"x": {"datum": 90.2, "type": "quantitative"}, "y": {"field": "p", "type": "quantitative"}, "text": {"field": "lab"}}
        },
        {
          "data": {"name": "tr"},
          "mark": {"type": "line", "color": "#ff3030", "strokeWidth": 1, "strokeDash": [2, 2]},
          "encoding": {"x": {"field": "b", "type": "quantitative"}, "y": {"field": "p", "type": "quantitative"}}
        },
        {
          "data": {"name": "h4"},
          "mark": {"type": "rule", "strokeWidth": 1},
          "encoding": {
            "x": {"field": "b", "type": "quantitative"},
            "y": {"field": "l", "type": "quantitative"},
            "y2": {"field": "h"},
            "color": {"condition": {"test": "datum.c >= datum.o", "value": "#808080"}, "value": "#000000"}
          }
        },
        {
          "data": {"name": "h4"},
          "mark": {"type": "rule", "strokeWidth": 1.9},
          "encoding": {
            "x": {"field": "b", "type": "quantitative"},
            "y": {"field": "o", "type": "quantitative"},
            "y2": {"field": "c"},
            "color": {"condition": {"test": "datum.c >= datum.o", "value": "#9a9a9a"}, "value": "#000000"}
          }
        }
      ]
    },
    {
      "width": 548,
      "height": 390,
      "title": {"text": "▼ EURUSD,H1", "offset": -10, "dx": 3},
      "resolve": {"scale": {"x": "independent", "y": "independent"}},
      "layer": [
        {
          "layer": [
            {
              "data": {"name": "piv"},
              "mark": {"type": "line", "clip": true, "color": "#0000ff", "strokeWidth": 2},
              "encoding": {
                "x": {"field": "t", "type": "quantitative", "scale": {"domain": [-4, 193], "nice": false, "zero": false},
                      "axis": {"values": [-4, 12, 28, 44, 60, 76, 92, 108, 124, 140], "labelAlign": "left", "labelPadding": 1, "tickSize": 3,
                               "labelExpr": "datum.value == -4 ? '17 May 2022' : datum.value == 12 ? '18 May 12:00' : datum.value == 28 ? '19 May 04:00' : datum.value == 44 ? '19 May 20:00' : datum.value == 60 ? '20 May 12:00' : datum.value == 76 ? '23 May 04:00' : datum.value == 92 ? '23 May 20:00' : datum.value == 108 ? '24 May 12:00' : datum.value == 124 ? '25 May 04:00' : '25 May 20:00'"}},
                "y": {"field": "R3", "type": "quantitative", "scale": {"domain": [1.0339, 1.0899], "nice": false, "zero": false},
                      "axis": {"orient": "right", "values": [1.0555, 1.059, 1.0625, 1.066, 1.0695, 1.0765, 1.08, 1.0835, 1.087], "format": ".4f", "tickSize": 4, "labelPadding": 2, "labelFontSize": 6.5}}
              }
            },
            {
              "data": {"name": "piv"},
              "mark": {"type": "line", "clip": true, "color": "#5a5aff", "strokeWidth": 1},
              "encoding": {"x": {"field": "t", "type": "quantitative"}, "y": {"field": "R2", "type": "quantitative"}}
            },
            {
              "data": {"name": "piv"},
              "mark": {"type": "line", "clip": true, "color": "#4848ff", "strokeWidth": 1, "strokeDash": [7, 4]},
              "encoding": {"x": {"field": "t", "type": "quantitative"}, "y": {"field": "R1", "type": "quantitative"}}
            },
            {
              "data": {"name": "piv"},
              "mark": {"type": "line", "clip": true, "color": "#008000", "strokeWidth": 1.6},
              "encoding": {"x": {"field": "t", "type": "quantitative"}, "y": {"field": "P", "type": "quantitative"}}
            },
            {
              "data": {"name": "piv"},
              "mark": {"type": "line", "clip": true, "color": "#ff5a5a", "strokeWidth": 1, "strokeDash": [7, 4]},
              "encoding": {"x": {"field": "t", "type": "quantitative"}, "y": {"field": "S1", "type": "quantitative"}}
            },
            {
              "data": {"name": "piv"},
              "mark": {"type": "line", "clip": true, "color": "#ff4040", "strokeWidth": 1},
              "encoding": {"x": {"field": "t", "type": "quantitative"}, "y": {"field": "S2", "type": "quantitative"}}
            },
            {
              "data": {"name": "piv"},
              "mark": {"type": "line", "clip": true, "color": "#ff0000", "strokeWidth": 2},
              "encoding": {"x": {"field": "t", "type": "quantitative"}, "y": {"field": "S3", "type": "quantitative"}}
            },
            {
              "data": {"name": "ma"},
              "mark": {"type": "line", "color": "#c05050", "strokeWidth": 1, "clip": true},
              "encoding": {"x": {"field": "t", "type": "quantitative"}, "y": {"field": "v", "type": "quantitative"}}
            },
            {
              "data": {"name": "h1"},
              "mark": {"type": "rule", "strokeWidth": 1, "clip": true},
              "encoding": {
                "x": {"field": "t", "type": "quantitative"},
                "y": {"field": "l", "type": "quantitative"},
                "y2": {"field": "h"},
                "color": {"condition": {"test": "datum.c >= datum.o", "value": "#808080"}, "value": "#000000"}
              }
            },
            {
              "data": {"name": "h1"},
              "mark": {"type": "rule", "strokeWidth": 1.9, "clip": true},
              "encoding": {
                "x": {"field": "t", "type": "quantitative"},
                "y": {"field": "o", "type": "quantitative"},
                "y2": {"field": "c"},
                "color": {"condition": {"test": "datum.c >= datum.o", "value": "#9a9a9a"}, "value": "#000000"}
              }
            },
            {
              "data": {"name": "ann"},
              "mark": {"type": "text", "align": "left", "baseline": "middle", "font": "Liberation Serif", "fontWeight": "bold", "fontSize": 13, "color": "#23237a"},
              "encoding": {"x": {"datum": 184.6, "type": "quantitative"}, "y": {"field": "v", "type": "quantitative"}, "text": {"field": "txt"}}
            },
            {
              "data": {"name": "px"},
              "mark": {"type": "rule", "color": "#000000", "strokeWidth": 10, "strokeCap": "butt"},
              "encoding": {"x": {"datum": 193.3, "type": "quantitative"}, "x2": {"datum": 205.6}, "y": {"field": "v", "type": "quantitative"}}
            },
            {
              "data": {"name": "px"},
              "mark": {"type": "text", "align": "left", "baseline": "middle", "font": "Liberation Sans", "fontSize": 7, "color": "#ffffff"},
              "encoding": {"x": {"datum": 194.3, "type": "quantitative"}, "y": {"field": "v", "type": "quantitative"}, "text": {"field": "txt"}}
            }
          ]
        },
        {
          "layer": [
            {
              "data": {"name": "tbl"},
              "mark": {"type": "rule", "color": "#cdcdcd", "strokeWidth": 18, "strokeCap": "butt", "clip": false},
              "encoding": {
                "x": {"datum": 0.788, "type": "quantitative", "scale": {"domain": [0, 1], "nice": false, "zero": false}, "axis": null},
                "x2": {"datum": 1.0995},
                "y": {"field": "row", "type": "quantitative", "scale": {"domain": [-15.222, 6.444], "reverse": true, "nice": false, "zero": false}, "axis": null}
              }
            },
            {
              "data": {"name": "tbl"},
              "mark": {"type": "rule", "strokeWidth": 16.4, "strokeCap": "butt", "clip": false},
              "encoding": {
                "x": {"datum": 0.7905, "type": "quantitative"},
                "x2": {"datum": 0.9345},
                "y": {"field": "row", "type": "quantitative"},
                "color": {"condition": {"test": "datum.row % 2 == 0", "value": "#e8e8e8"}, "value": "#ffffff"}
              }
            },
            {
              "data": {"name": "tbl"},
              "mark": {"type": "rule", "strokeWidth": 16.4, "strokeCap": "butt", "clip": false},
              "encoding": {
                "x": {"datum": 0.9368, "type": "quantitative"},
                "x2": {"datum": 1.0995},
                "y": {"field": "row", "type": "quantitative"},
                "color": {"condition": {"test": "datum.row % 2 == 0", "value": "#e8e8e8"}, "value": "#ffffff"}
              }
            },
            {
              "data": {"name": "tbl"},
              "mark": {"type": "text", "align": "left", "baseline": "middle", "font": "Liberation Sans", "fontSize": 11, "color": "#333333", "clip": false},
              "encoding": {"x": {"datum": 0.7958, "type": "quantitative"}, "y": {"field": "row", "type": "quantitative"}, "text": {"field": "name"}}
            },
            {
              "data": {"name": "tbl"},
              "mark": {"type": "text", "align": "right", "baseline": "middle", "font": "Liberation Sans", "fontSize": 11, "color": "#333333", "clip": false},
              "encoding": {"x": {"datum": 1.0855, "type": "quantitative"}, "y": {"field": "row", "type": "quantitative"}, "text": {"field": "val"}}
            }
          ]
        }
      ]
    }
  ]
}
